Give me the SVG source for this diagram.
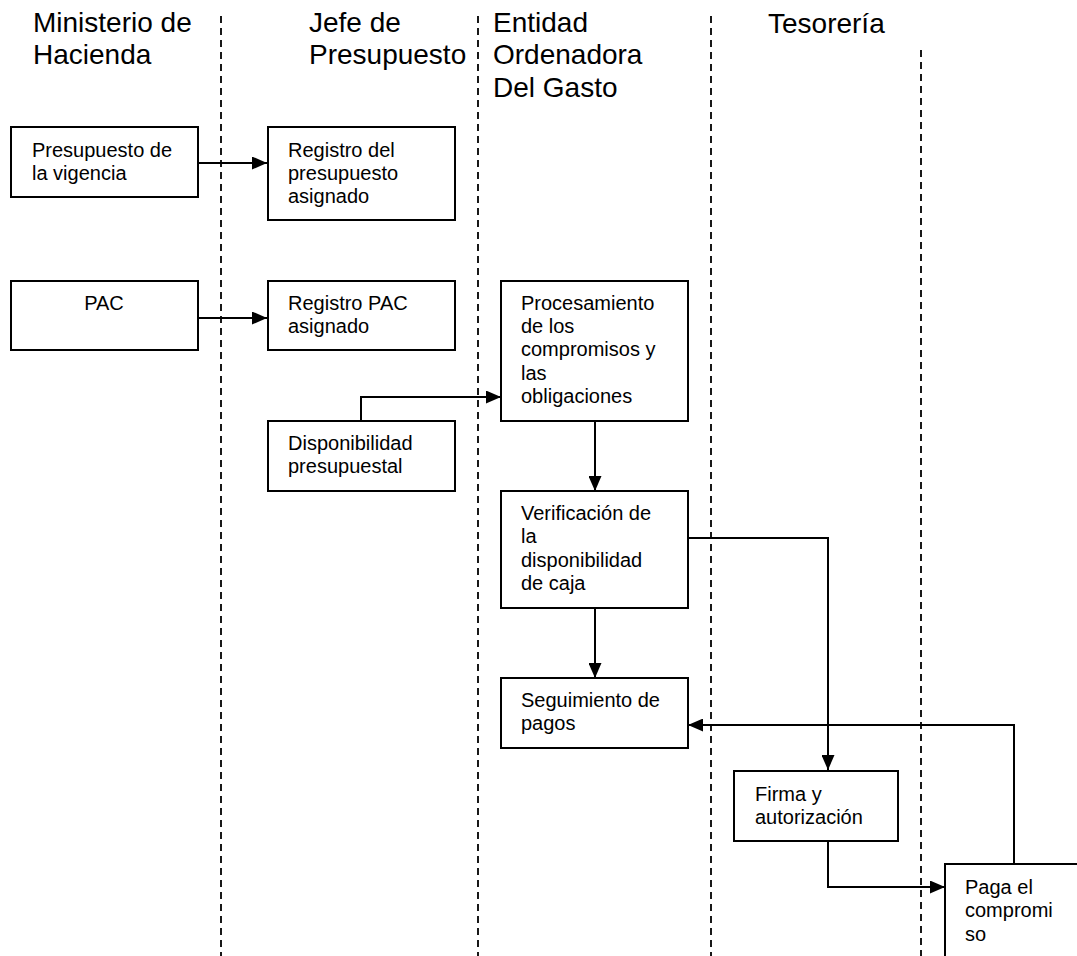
<svg xmlns="http://www.w3.org/2000/svg" width="1077" height="956" viewBox="0 0 1077 956">
<style>
.hdr{font-family:"Liberation Sans",Arial,sans-serif;font-size:28px;fill:#000}
.t{font-family:"Liberation Sans",Arial,sans-serif;font-size:20px;fill:#000}
.box{fill:#fff;stroke:#000;stroke-width:2}
.lane{stroke:#000;stroke-width:1.8;stroke-dasharray:7 5;fill:none}
.c{stroke:#000;stroke-width:2;fill:none}
</style>
<defs>
<marker id="ah" viewBox="0 0 15 13" refX="15" refY="6.5" markerWidth="15" markerHeight="13" markerUnits="userSpaceOnUse" orient="auto">
<path d="M0,0 L15,6.5 L0,13 Z" fill="#000"/>
</marker>
</defs>
<rect width="1077" height="956" fill="#fff"/>
<g id="lanes">
<line class="lane" x1="221" y1="16" x2="221" y2="956"/>
<line class="lane" x1="478" y1="16" x2="478" y2="956"/>
<line class="lane" x1="711" y1="16" x2="711" y2="956"/>
<line class="lane" x1="921" y1="50" x2="921" y2="956"/>
</g>
<g id="headers">
<text class="hdr" x="33" y="32">Ministerio de</text>
<text class="hdr" x="33" y="64">Hacienda</text>
<text class="hdr" x="309" y="32">Jefe de</text>
<text class="hdr" x="309" y="64">Presupuesto</text>
<text class="hdr" x="493" y="32">Entidad</text>
<text class="hdr" x="493" y="64">Ordenadora</text>
<text class="hdr" x="493" y="97">Del Gasto</text>
<text class="hdr" x="768" y="33">Tesorería</text>
</g>
<g id="connectors">
<path class="c" d="M198,163 H267" marker-end="url(#ah)"/>
<path class="c" d="M198,318 H267" marker-end="url(#ah)"/>
<path class="c" d="M361,421 V397 H501" marker-end="url(#ah)"/>
<path class="c" d="M595,421 V491" marker-end="url(#ah)"/>
<path class="c" d="M595,608 V678" marker-end="url(#ah)"/>
<path class="c" d="M688,538 H828 V770" marker-end="url(#ah)"/>
<path class="c" d="M828,841 V887 H945" marker-end="url(#ah)"/>
<path class="c" d="M1014,864 V725 H688" marker-end="url(#ah)"/>
</g>
<g id="n1"><rect class="box" x="11" y="127" width="187" height="70"/>
<text class="t" x="32" y="157">Presupuesto de</text><text class="t" x="32" y="180">la vigencia</text></g>
<g id="n2"><rect class="box" x="268" y="127" width="187" height="93"/>
<text class="t" x="288" y="157">Registro del</text><text class="t" x="288" y="180">presupuesto</text><text class="t" x="288" y="203">asignado</text></g>
<g id="n3"><rect class="box" x="11" y="281" width="187" height="69"/>
<text class="t" x="104" y="310" text-anchor="middle">PAC</text></g>
<g id="n4"><rect class="box" x="268" y="281" width="187" height="69"/>
<text class="t" x="288" y="310">Registro PAC</text><text class="t" x="288" y="333">asignado</text></g>
<g id="n5"><rect class="box" x="268" y="421" width="187" height="70"/>
<text class="t" x="288" y="450">Disponibilidad</text><text class="t" x="288" y="473">presupuestal</text></g>
<g id="n6"><rect class="box" x="501" y="281" width="187" height="140"/>
<text class="t" x="521" y="310">Procesamiento</text><text class="t" x="521" y="333">de los</text><text class="t" x="521" y="356">compromisos y</text><text class="t" x="521" y="380">las</text><text class="t" x="521" y="403">obligaciones</text></g>
<g id="n7"><rect class="box" x="501" y="491" width="187" height="117"/>
<text class="t" x="521" y="520">Verificación de</text><text class="t" x="521" y="543">la</text><text class="t" x="521" y="567">disponibilidad</text><text class="t" x="521" y="590">de caja</text></g>
<g id="n8"><rect class="box" x="501" y="678" width="187" height="70"/>
<text class="t" x="521" y="707">Seguimiento de</text><text class="t" x="521" y="730">pagos</text></g>
<g id="n9"><rect class="box" x="734" y="771" width="164" height="70"/>
<text class="t" x="755" y="801">Firma y</text><text class="t" x="755" y="824">autorización</text></g>
<g id="n10"><rect class="box" x="945" y="864" width="140" height="100"/>
<text class="t" x="965" y="894">Paga el</text><text class="t" x="965" y="917">compromi</text><text class="t" x="965" y="941">so</text></g>
</svg>
